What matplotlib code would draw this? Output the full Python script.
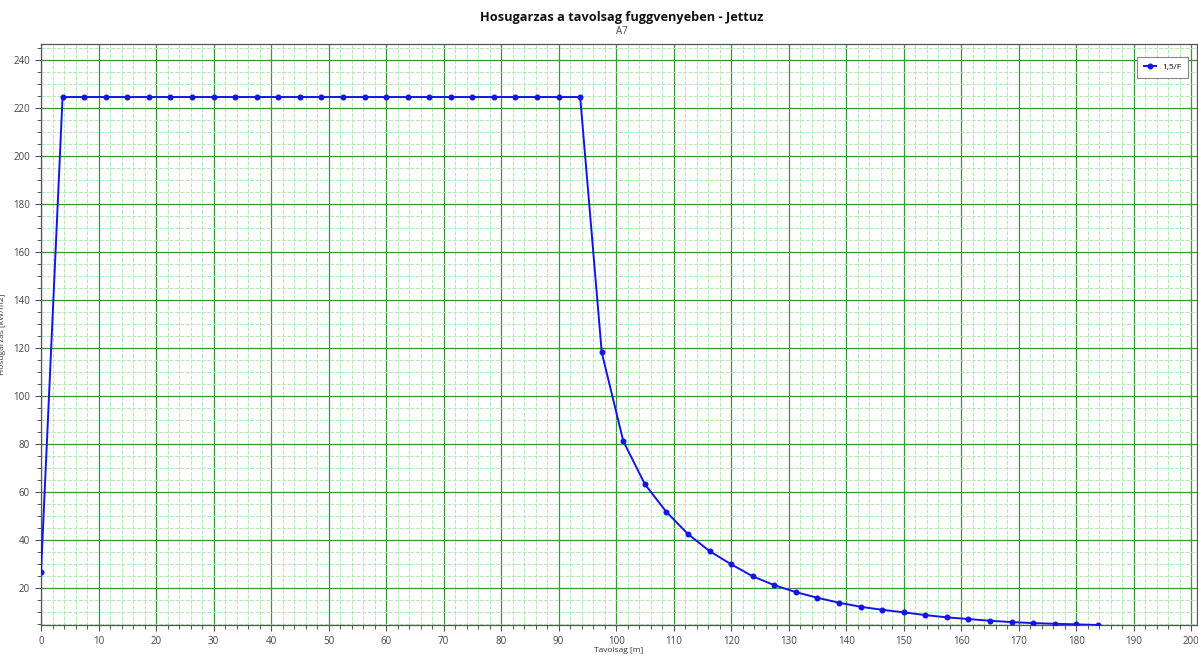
import matplotlib
matplotlib.use("Agg")
import matplotlib.pyplot as plt
from matplotlib.ticker import MultipleLocator

plt.rcParams['font.family'] = ['Open Sans', 'DejaVu Sans']

# Data
distance_m = [3.75 * i for i in range(50)]
heat_flux = [26.3] + [224.5] * 25 + [
    118.0, 81.0, 63.1, 51.5, 42.3, 35.2, 29.7, 24.7, 21.0, 18.1,
    15.75, 13.7, 12.0, 10.75, 9.67, 8.54, 7.58, 6.88, 6.17, 5.62,
    5.2, 4.9, 4.67, 4.4]
series_label = "1,5/F"
title = "Hosugarzas a tavolsag fuggvenyeben - Jettuz"
subtitle = "A7"
x_label = "Tavolsag [m]"
y_label = "Hosugarzas [kW/m2]"

W, H = 1198, 657
fig = plt.figure(figsize=(W / 100, H / 100), dpi=100)
ax = fig.add_axes([41 / W, 1 - 625 / H, (1197 - 41) / W, (625 - 44) / H])

ax.plot(distance_m, heat_flux, color="#1414e6", lw=1.4, marker="o", ms=3.3,
        label=series_label, zorder=5, clip_on=True)

ax.set_xlim(0, 201)
ax.set_ylim(4.4, 246.6)
ax.xaxis.set_major_locator(MultipleLocator(10))
ax.xaxis.set_minor_locator(MultipleLocator(2))
ax.yaxis.set_major_locator(MultipleLocator(20))
ax.yaxis.set_minor_locator(MultipleLocator(5))

ax.grid(which="major", color="#3d923d", lw=0.9, zorder=1)
ax.grid(which="minor", color="#b4e8b4", lw=0.7, ls=(0, (4, 1.5)), zorder=0)
ax.set_axisbelow(True)

ax.tick_params(which="major", direction="out", length=4, width=0.8,
               color="#555555", labelsize=7, labelcolor="#444444", pad=4)
ax.tick_params(which="minor", direction="out", length=3, width=0.7, color="#555555")
for s in ax.spines.values():
    s.set_color("#555555")
    s.set_linewidth(0.9)

ax.set_xlabel(x_label, fontsize=6, color="#333333", labelpad=0)
ax.set_ylabel(y_label, fontsize=6, color="#333333", labelpad=5)

fig.text(622 / W, 1 - 17 / H, title, ha="center", va="center",
         fontsize=9.2, fontweight="bold", color="#111111")
fig.text(622 / W, 1 - 32 / H, subtitle, ha="center", va="center",
         fontsize=7, color="#444444")

leg = ax.legend(loc="upper right", fontsize=6, frameon=True, fancybox=False,
                handlelength=1.4, borderpad=0.8, bbox_to_anchor=(0.996, 0.985))
leg.get_frame().set_edgecolor("#888888")
leg.get_frame().set_linewidth(0.8)
leg.get_frame().set_alpha(1)

fig.savefig("out.png", dpi=100)
